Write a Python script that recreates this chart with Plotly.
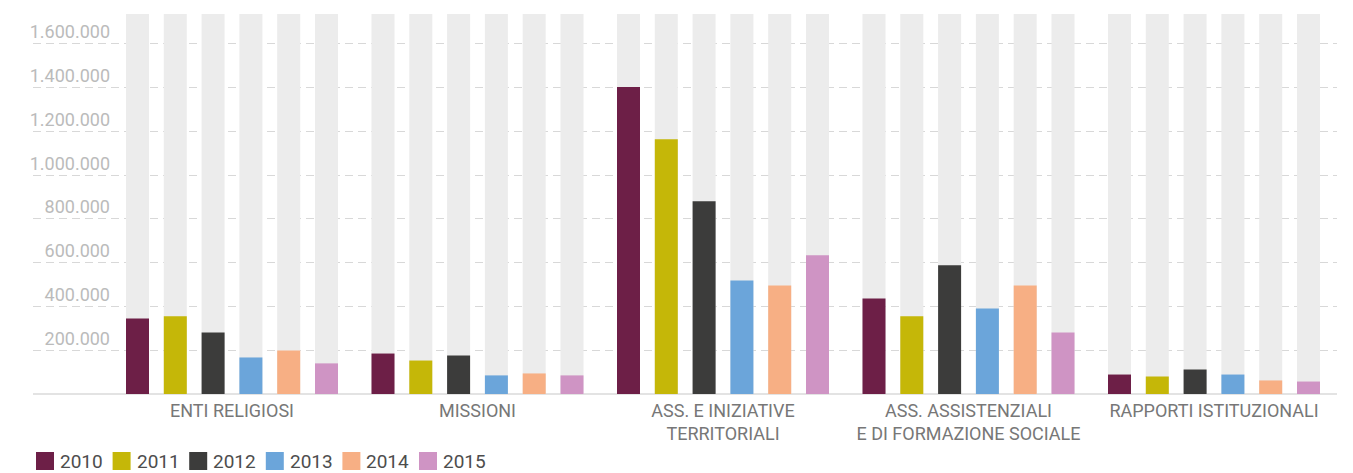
import plotly.graph_objects as go

categories = ["ENTI RELIGIOSI", "MISSIONI", "ASS. E INIZIATIVE<br>TERRITORIALI",
              "ASS. ASSISTENZIALI<br>E DI FORMAZIONE SOCIALE", "RAPPORTI ISTITUZIONALI"]
years = ["2010", "2011", "2012", "2013", "2014", "2015"]
values = {
    "2010": [345000, 185000, 1403000, 437000, 89000],
    "2011": [355000, 153000, 1165000, 355000, 80000],
    "2012": [281000, 176000, 881000, 588000, 112000],
    "2013": [167000, 85000, 519000, 391000, 89000],
    "2014": [199000, 94000, 496000, 496000, 62000],
    "2015": [140000, 85000, 634000, 281000, 57000],
}
colors = ["#6d1f47", "#c5b708", "#3c3c3b", "#6ba5da", "#f7af84", "#cf94c4"]
y_ticks = [200000, 400000, 600000, 800000, 1000000, 1200000, 1400000, 1600000]
y_max = 1737000

PAGE = 8  # default body margin of the html page
W, H = 1353 - 2 * PAGE, 473 - PAGE
ml, mt = 33 - PAGE, 14 - PAGE
plot_right, plot_bottom = 1337 - PAGE, 394 - PAGE
mr, mb = W - plot_right, H - plot_bottom
plot_w = W - ml - mr
plot_h = H - mt - mb
x_range = [-0.8106, 4.501]
unit_px = plot_w / (x_range[1] - x_range[0])
bar_w = 23 / unit_px
step = 37.8 / unit_px
first_off = -106 / unit_px

FONT = "Roboto, sans-serif"

fig = go.Figure()
for j, yr in enumerate(years):
    fig.add_trace(go.Bar(x=categories, y=[y_max] * len(categories), offset=first_off + j * step,
                         width=bar_w, marker=dict(color="#ececec", line=dict(width=0)),
                         showlegend=False, hoverinfo="skip"))
for j, yr in enumerate(years):
    fig.add_trace(go.Bar(x=categories, y=values[yr], name=yr, offset=first_off + j * step,
                         width=bar_w, marker=dict(color=colors[j], line=dict(width=0)),
                         showlegend=False))

# manual legend (page pixel positions converted to paper coords)
def px_to_paper_x(px):
    return (px - PAGE - ml) / plot_w

def px_to_paper_y(py):
    return (plot_bottom - (py - PAGE)) / plot_h

for j, yr in enumerate(years):
    x0 = 36 + j * 76.6
    fig.add_shape(type="rect", xref="paper", yref="paper",
                  x0=px_to_paper_x(x0), x1=px_to_paper_x(x0 + 18),
                  y0=px_to_paper_y(452), y1=px_to_paper_y(470),
                  fillcolor=colors[j], line=dict(width=0))
    fig.add_annotation(text=yr, xref="paper", yref="paper",
                       x=px_to_paper_x(x0 + 22), y=px_to_paper_y(461.5),
                       xanchor="left", yanchor="middle", showarrow=False,
                       font=dict(family=FONT, size=19, color="#4d4d4d"))

fig.update_layout(
    width=W, height=H, barmode="overlay", separators=",.",
    margin=dict(l=ml, r=mr, t=mt, b=mb),
    plot_bgcolor="white", paper_bgcolor="white",
    showlegend=False,
    xaxis=dict(type="category", range=x_range, showgrid=False, showline=False, ticks="",
               tickfont=dict(family=FONT, size=18, color="#777777"),
               ticklabelstandoff=4, fixedrange=True),
    yaxis=dict(range=[0, y_max], tickvals=y_ticks, tickformat=",d",
               anchor="free", position=px_to_paper_x(110), showline=False, ticks="",
               tickfont=dict(family=FONT, size=18, color="#bbbbbb"),
               ticklabelshift=-12,
               showgrid=True, gridcolor="#d8d8d8", gridwidth=1, griddash="8px,5px",
               zeroline=True, zerolinecolor="#e3e3e3", zerolinewidth=2),
)

fig.write_html("out.html")
